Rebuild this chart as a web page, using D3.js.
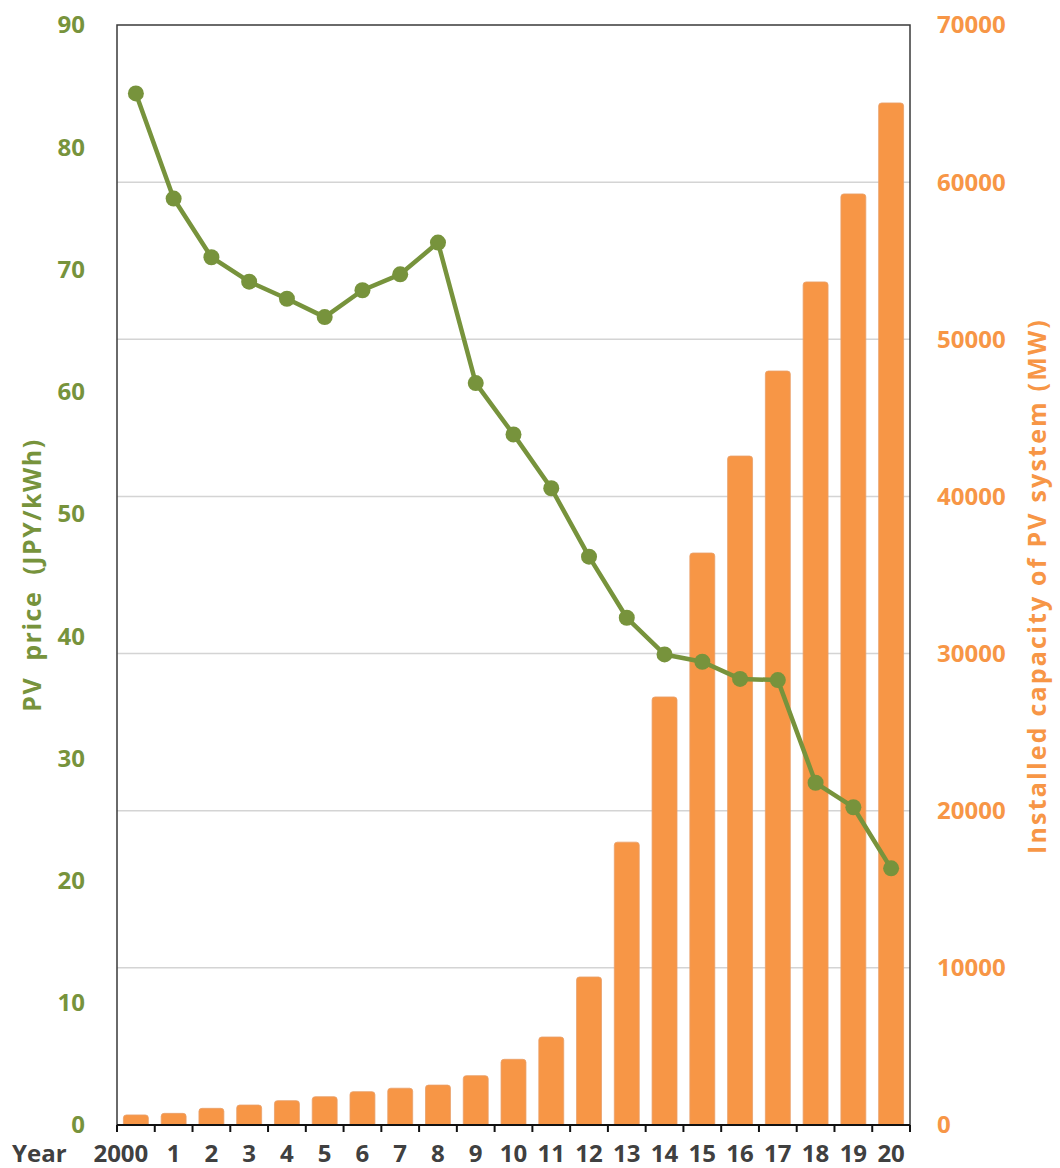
<!DOCTYPE html>
<html>
<head>
<meta charset="utf-8">
<script src="https://cdn.jsdelivr.net/npm/d3@7"></script>
<style>
  html, body { margin: 0; padding: 0; background: #ffffff; }
  svg { display: block; }
  text { font-family: "Open Sans", "DejaVu Sans", sans-serif; font-weight: 700; }
</style>
</head>
<body>
<svg id="chart" width="1060" height="1168"></svg>
<script>
// Years 2000–2020 and their axis labels
const years = d3.range(2000, 2021);
const yearLabels = ["2000", "1", "2", "3", "4", "5", "6", "7", "8", "9", "10",
  "11", "12", "13", "14", "15", "16", "17", "18", "19", "20"];

// PV price (JPY/kWh), left axis
const pvPrice = [84.4, 75.8, 71.0, 69.0, 67.6, 66.1, 68.3, 69.6, 72.2, 60.7, 56.5,
  52.1, 46.5, 41.5, 38.5, 37.9, 36.5, 36.4, 28.0, 26.0, 21.0];

// Installed capacity of PV system (MW), right axis
const capacity = [640, 740, 1060, 1270, 1550, 1800, 2120, 2340, 2540, 3140, 4180,
  5600, 9420, 18000, 27240, 36400, 42570, 47980, 53650, 59250, 65040];

const priceTicks = d3.range(0, 91, 10);
const capacityTicks = d3.range(0, 70001, 10000);

const GREEN = "#77933c";
const ORANGE = "#f79646";
const TEXT = "#404040";
const AXIS = "#3a3a3a";

const margin = { left: 117, right: 910, top: 25, bottom: 1125 };

const svg = d3.select("#chart");

const x = d3.scaleBand()
  .domain(years)
  .range([margin.left, margin.right])
  .paddingInner(0.34)
  .paddingOuter(0.17);

const yL = d3.scaleLinear().domain([0, 90]).range([margin.bottom, margin.top]);
const yR = d3.scaleLinear().domain([0, 70000]).range([margin.bottom, margin.top]);

// Horizontal gridlines follow the capacity axis
svg.append("g")
  .selectAll("line")
  .data(capacityTicks.filter(d => d > 0 && d < 70000))
  .join("line")
  .attr("x1", margin.left)
  .attr("x2", margin.right)
  .attr("y1", d => yR(d))
  .attr("y2", d => yR(d))
  .attr("stroke", "#d4d4d4")
  .attr("stroke-width", 1.5);

// Capacity bars with slightly rounded tops
const r = 3;
svg.append("g")
  .selectAll("path")
  .data(years.map((y, i) => ({ year: y, value: capacity[i] })))
  .join("path")
  .attr("d", d => {
    const x0 = x(d.year), w = x.bandwidth();
    const top = yR(d.value), base = yR(0);
    return `M${x0},${base} L${x0},${top + r} Q${x0},${top} ${x0 + r},${top}
            L${x0 + w - r},${top} Q${x0 + w},${top} ${x0 + w},${top + r} L${x0 + w},${base} Z`;
  })
  .attr("fill", ORANGE)
  .attr("stroke", "#e9a06a")
  .attr("stroke-width", 0.8);

// Plot frame
svg.append("rect")
  .attr("x", margin.left)
  .attr("y", margin.top)
  .attr("width", margin.right - margin.left)
  .attr("height", margin.bottom - margin.top)
  .attr("fill", "none")
  .attr("stroke", AXIS)
  .attr("stroke-width", 1.5);

// Bottom axis with ticks at category boundaries
const xAxisG = svg.append("g");
xAxisG.append("line")
  .attr("x1", margin.left).attr("x2", margin.right)
  .attr("y1", margin.bottom).attr("y2", margin.bottom)
  .attr("stroke", "#111").attr("stroke-width", 2);
const step = x.step();
xAxisG.selectAll("line.tick")
  .data(d3.range(years.length + 1))
  .join("line")
  .attr("class", "tick")
  .attr("x1", i => margin.left + i * step)
  .attr("x2", i => margin.left + i * step)
  .attr("y1", margin.bottom)
  .attr("y2", margin.bottom + 7)
  .attr("stroke", "#111")
  .attr("stroke-width", 2);

xAxisG.selectAll("text.xlab")
  .data(years.map((y, i) => ({ year: y, label: yearLabels[i] })))
  .join("text")
  .attr("class", "xlab")
  .attr("x", d => x(d.year) + x.bandwidth() / 2)
  .attr("dx", (d, i) => i === 0 ? -15 : 0)
  .attr("y", 1162)
  .attr("text-anchor", "middle")
  .attr("fill", TEXT)
  .attr("font-size", 24)
  .text(d => d.label);

svg.append("text")
  .attr("x", 12)
  .attr("y", 1162)
  .attr("fill", TEXT)
  .attr("font-size", 24)
  .text("Year");

// Left axis labels (price)
svg.append("g")
  .selectAll("text")
  .data(priceTicks)
  .join("text")
  .attr("x", 85)
  .attr("y", d => yL(d))
  .attr("dy", "0.35em")
  .attr("text-anchor", "end")
  .attr("fill", GREEN)
  .attr("font-size", 24)
  .text(d => d);

// Right axis labels (capacity)
svg.append("g")
  .selectAll("text")
  .data(capacityTicks)
  .join("text")
  .attr("x", 937)
  .attr("y", d => yR(d))
  .attr("dy", "0.35em")
  .attr("text-anchor", "start")
  .attr("fill", ORANGE)
  .attr("font-size", 24)
  .text(d => d);

// Axis titles
svg.append("text")
  .attr("transform", `translate(41, 575) rotate(-90)`)
  .attr("text-anchor", "middle")
  .attr("fill", GREEN)
  .attr("font-size", 25)
  .attr("letter-spacing", 1.5)
  .attr("xml:space", "preserve")
  .style("white-space", "pre")
  .text("PV  price  (JPY/kWh)");

svg.append("text")
  .attr("transform", `translate(1046, 586) rotate(-90)`)
  .attr("text-anchor", "middle")
  .attr("fill", ORANGE)
  .attr("font-size", 25)
  .attr("letter-spacing", 2.2)
  .text("Installed capacity of PV system (MW)");

// Price line with markers
const pts = years.map((y, i) => ({ year: y, value: pvPrice[i] }));
const cx = d => x(d.year) + x.bandwidth() / 2;

svg.append("path")
  .datum(pts)
  .attr("d", d3.line().x(cx).y(d => yL(d.value)))
  .attr("fill", "none")
  .attr("stroke", GREEN)
  .attr("stroke-width", 4.5)
  .attr("stroke-linejoin", "round");

svg.append("g")
  .selectAll("circle")
  .data(pts)
  .join("circle")
  .attr("cx", cx)
  .attr("cy", d => yL(d.value))
  .attr("r", 8)
  .attr("fill", GREEN);
</script>
</body>
</html>
